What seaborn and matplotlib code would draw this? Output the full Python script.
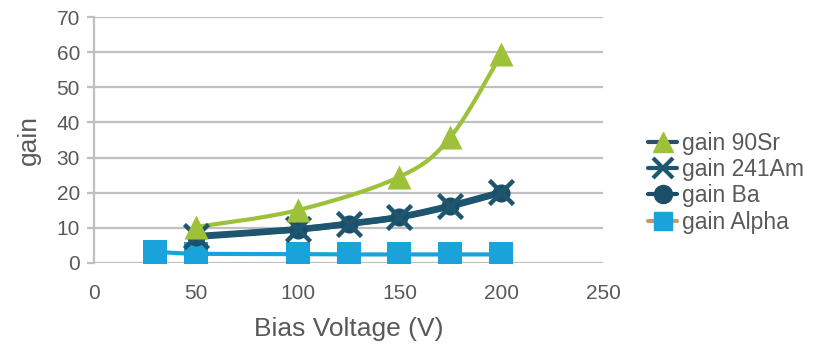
import numpy as np
import matplotlib
matplotlib.use("Agg")
import matplotlib.pyplot as plt
from matplotlib.lines import Line2D
import seaborn as sns

# Measured gain versus bias voltage
volt_sr = [50, 100, 150, 175, 200]
gain_sr = [10.2, 15.0, 24.5, 35.8, 59.5]

volt_am = [50, 100, 125, 150, 175, 200]
gain_am = [7.6, 9.6, 11.2, 13.1, 16.3, 20.2]

volt_ba = [50, 100, 125, 150, 175, 200]
gain_ba = [7.4, 9.5, 11.1, 13.0, 16.1, 20.0]

volt_alpha = [30, 50, 100, 125, 150, 175, 200]
gain_alpha = [3.2, 2.6, 2.5, 2.4, 2.4, 2.4, 2.4]

x_ticks = [0, 50, 100, 150, 200, 250]
y_ticks = [0, 10, 20, 30, 40, 50, 60, 70]

C_SR = "#9DC23A"
C_AM = "#1E5670"
C_BA = "#1B4E68"
C_ALPHA = "#1AA3DA"
C_TEXT = "#595959"
C_GRID = "#BFBFBF"


def smooth(xs, ys, n=40):
    """Bezier spline through the points, control points from neighbouring slopes."""
    p = np.column_stack([xs, ys]).astype(float)
    ext = np.vstack([p[0], p, p[-1]])
    out = []
    for i in range(len(p) - 1):
        p0, p1, p2, p3 = ext[i], ext[i + 1], ext[i + 2], ext[i + 3]
        c1 = p1 + (p2 - p0) / 6.0
        c2 = p2 - (p3 - p1) / 6.0
        t = np.linspace(0, 1, n)[:, None]
        seg = ((1 - t) ** 3) * p1 + 3 * ((1 - t) ** 2) * t * c1 + 3 * (1 - t) * t ** 2 * c2 + t ** 3 * p2
        out.append(seg if i == 0 else seg[1:])
    s = np.vstack(out)
    return s[:, 0], s[:, 1]


sns.set_theme(style="white")
plt.rcParams["font.family"] = ["Liberation Sans", "DejaVu Sans"]

fig = plt.figure(figsize=(8.23, 3.5), dpi=100)
ax = fig.add_axes([0.114, 0.249, 0.619, 0.702])

# smoothed series lines
for xs, ys, col, lw in [
    (volt_alpha, gain_alpha, C_ALPHA, 3.0),
    (volt_ba, gain_ba, C_BA, 4.5),
    (volt_am, gain_am, C_AM, 4.5),
    (volt_sr, gain_sr, C_SR, 3.0),
]:
    sx, sy = smooth(xs, ys)
    sns.lineplot(x=sx, y=sy, sort=False, color=col, linewidth=lw, ax=ax,
                 estimator=None, zorder=3)

# markers
sns.scatterplot(x=volt_alpha, y=gain_alpha, marker="s", s=280, color=C_ALPHA,
                edgecolor=C_ALPHA, linewidth=0, ax=ax, zorder=4)
sns.scatterplot(x=volt_ba, y=gain_ba, marker="o", s=170, color=C_BA,
                edgecolor=C_BA, linewidth=0, ax=ax, zorder=5)
sns.scatterplot(x=volt_am, y=gain_am, marker="x", s=300, color=C_AM,
                linewidth=3.2, ax=ax, zorder=6)
sns.scatterplot(x=volt_sr, y=gain_sr, marker="^", s=300, color=C_SR,
                edgecolor=C_SR, linewidth=0, ax=ax, zorder=7)

ax.set_xlim(0, 250)
ax.set_ylim(0, 70)
ax.set_xticks(x_ticks)
ax.set_yticks(y_ticks)
ax.set_xticklabels([str(v) for v in x_ticks])
ax.set_yticklabels([str(v) for v in y_ticks])

ax.yaxis.grid(True, color=C_GRID, linewidth=1.6)
ax.xaxis.grid(False)
ax.set_axisbelow(True)
for side in ["top", "right", "bottom"]:
    ax.spines[side].set_visible(False)
ax.spines["left"].set_color(C_GRID)
ax.spines["left"].set_linewidth(1.6)

ax.tick_params(axis="y", which="major", left=True, length=5, width=1.6,
               color=C_GRID, labelsize=15, labelcolor=C_TEXT, pad=5)
ax.tick_params(axis="x", which="major", bottom=False, labelsize=15,
               labelcolor=C_TEXT, pad=9)

ax.set_xlabel("Bias Voltage (V)", fontsize=19, color=C_TEXT, labelpad=10.5)
ax.set_ylabel("gain", fontsize=19, color=C_TEXT, labelpad=11)

handles = [
    Line2D([], [], color="#2A4F6E", linewidth=3, marker="^", markersize=15,
           markerfacecolor=C_SR, markeredgecolor=C_SR),
    Line2D([], [], color=C_AM, linewidth=3, marker="x", markersize=15,
           markeredgewidth=3, markeredgecolor=C_AM),
    Line2D([], [], color=C_BA, linewidth=3, marker="o", markersize=13,
           markerfacecolor=C_BA, markeredgecolor=C_BA),
    Line2D([], [], color="#C49A6C", linewidth=3, marker="s", markersize=13,
           markerfacecolor=C_ALPHA, markeredgecolor=C_ALPHA),
]
labels = ["gain 90Sr", "gain 241Am", "gain Ba", "gain Alpha"]
leg = fig.legend(handles, labels, loc="upper left", bbox_to_anchor=(0.787, 0.624),
                 frameon=False, fontsize=16.5, handlelength=1.3, handletextpad=0.2,
                 labelspacing=0.15, borderaxespad=0, borderpad=0)
for t in leg.get_texts():
    t.set_color(C_TEXT)

fig.savefig("out.png", dpi=100)
